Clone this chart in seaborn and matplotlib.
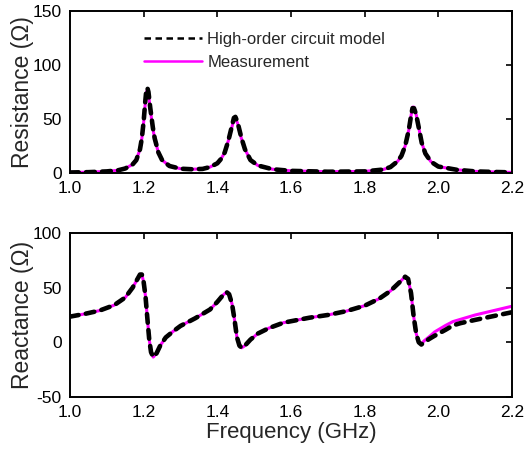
import numpy as np
import pandas as pd
import matplotlib
matplotlib.use("Agg")
import matplotlib.pyplot as plt
import seaborn as sns

# ---- data ----
f_r = [1.00, 1.05, 1.10, 1.13, 1.15, 1.17, 1.18, 1.19, 1.195, 1.20, 1.204, 1.207,
       1.210, 1.213, 1.218, 1.225, 1.23, 1.24, 1.25, 1.27, 1.30, 1.33, 1.36, 1.38,
       1.40, 1.41, 1.42, 1.43, 1.44, 1.445, 1.449, 1.455, 1.465, 1.475, 1.49, 1.51,
       1.55, 1.60, 1.70, 1.80, 1.85, 1.87, 1.89, 1.90, 1.91, 1.92, 1.926, 1.930,
       1.934, 1.94, 1.947, 1.955, 1.965, 1.98, 2.00, 2.05, 2.10, 2.15, 2.20]
R_model = [0.5, 0.8, 1.5, 2.5, 4.2, 8, 12, 22, 32, 48, 65, 76,
           79, 75, 60, 42, 32, 19, 12, 6.5, 4, 3.5, 3.8, 5.5,
           9, 13, 19, 30, 44, 51, 52, 47, 33, 22, 12, 7,
           3.5, 2, 1.2, 1.5, 3.2, 5.5, 11, 16, 25, 40, 53, 60,
           60, 54, 42, 28, 18, 10.5, 6, 3, 1.5, 1, 0.6]
R_meas = [0.5, 0.8, 1.5, 2.5, 4.2, 8, 12, 22, 32, 47, 63, 74,
          77, 73, 59, 41, 31.5, 19, 12, 6.5, 4, 3.5, 3.8, 5.5,
          9, 13, 19, 30, 43, 50, 51, 46, 32.5, 22, 12, 7,
          3.5, 2, 1.2, 1.5, 3.2, 5.5, 11, 16, 25, 40, 53, 61,
          61, 54, 42, 28, 18, 10.5, 6, 3, 1.5, 1, 0.6]

f_x = [1.00, 1.04, 1.08, 1.12, 1.15, 1.17, 1.18, 1.19, 1.195, 1.20, 1.205, 1.21,
       1.215, 1.22, 1.226, 1.235, 1.245, 1.26, 1.28, 1.30, 1.34, 1.38, 1.40, 1.415,
       1.425, 1.432, 1.44, 1.447, 1.453, 1.46, 1.466, 1.475, 1.49, 1.51, 1.54, 1.58,
       1.65, 1.70, 1.75, 1.80, 1.84, 1.87, 1.895, 1.91, 1.918, 1.926, 1.933, 1.94,
       1.947, 1.954, 1.962, 1.975, 1.99, 2.02, 2.04, 2.06, 2.10, 2.15, 2.20]
X_model = [23.5, 26, 29, 34, 41, 50, 56, 62, 62, 55, 42, 22,
           3, -9, -13.5, -10, -3, 4.5, 10, 15, 22, 30, 37, 43,
           46, 44, 35, 20, 5, -3, -5, -3, 2.5, 8, 13, 18,
           22.5, 25, 28.5, 33.5, 40, 47, 55, 60, 58, 45, 24, 8,
           0, -2, 0, 3, 6, 11.5, 15.5, 17.5, 20.5, 24, 27.5]
X_meas = [23.5, 26, 29, 34, 41, 50, 56, 62, 62, 55, 42, 22,
          3, -9, -13.5, -10, -3, 4.5, 10, 15, 22, 30, 37, 43,
          46, 44, 35, 20, 5, -3, -5, -3, 2.5, 8, 13, 18,
          22.5, 25, 28.5, 33.5, 40, 47, 55, 60, 58, 45, 24, 8,
          0, -1.5, 1.5, 5, 9.5, 15.5, 19, 21, 25, 29, 33]

xticks = [1.0, 1.2, 1.4, 1.6, 1.8, 2.0, 2.2]
labels = ["High-order circuit model", "Measurement"]

# ---- style ----
sns.set_style("white")
plt.rcParams['font.family'] = ['Liberation Sans', 'DejaVu Sans']
plt.rcParams['axes.unicode_minus'] = False

fig = plt.figure(figsize=(5.28, 4.57), dpi=100)
ax1 = fig.add_axes([0.1326, 0.6214, 0.837, 0.3545])
ax2 = fig.add_axes([0.1326, 0.1313, 0.837, 0.3589])

mag = "#FF00FF"
dash = (0, (1.9, 1.6))

df_r = pd.DataFrame({"f": f_r, "model": R_model, "meas": R_meas})
df_x = pd.DataFrame({"f": f_x, "model": X_model, "meas": X_meas})

for ax, df in ((ax1, df_r), (ax2, df_x)):
    sns.lineplot(data=df, x="f", y="meas", ax=ax, color=mag, lw=2.2,
                 label=labels[1], legend=False)
    sns.lineplot(data=df, x="f", y="model", ax=ax, color="black", lw=3.3,
                 linestyle=dash, dash_capstyle="round", label=labels[0],
                 legend=False)
    ax.set_xlim(1.0, 2.2)
    ax.set_xticks(xticks)
    ax.set_xticklabels([f"{t:.1f}" for t in xticks])
    ax.tick_params(direction="in", length=4, width=1.2, top=True, right=True,
                   labelsize=12.5, colors="black", pad=6)
    for s in ax.spines.values():
        s.set_color("black")
        s.set_linewidth(1.4)

ax1.set_ylim(0, 150)
ax1.set_yticks([0, 50, 100, 150])
ax2.set_ylim(-50, 100)
ax2.set_yticks([-50, 0, 50, 100])

ax1.set_xlabel("")
ax1.set_ylabel("Resistance (Ω)", fontsize=16.5, labelpad=-1)
ax2.set_ylabel("Reactance (Ω)", fontsize=16.5, labelpad=-1)
ax2.set_xlabel("Frequency (GHz)", fontsize=16, labelpad=1)

# legend (model first)
h, l = ax1.get_legend_handles_labels()
order = [l.index(labels[0]), l.index(labels[1])]
leg = ax1.legend([h[i] for i in order], [l[i] for i in order],
                 loc="upper left", bbox_to_anchor=(0.167, 0.87),
                 frameon=False, fontsize=12, handlelength=3.5,
                 handletextpad=0.3, labelspacing=0.45, borderpad=0,
                 borderaxespad=0)
for line in leg.get_lines():
    line.set_linewidth(1.8)
    line.set_dash_capstyle("butt")
leg.get_lines()[0].set_linestyle((0, (2.6, 1.8)))

fig.savefig("out.png", dpi=100)
